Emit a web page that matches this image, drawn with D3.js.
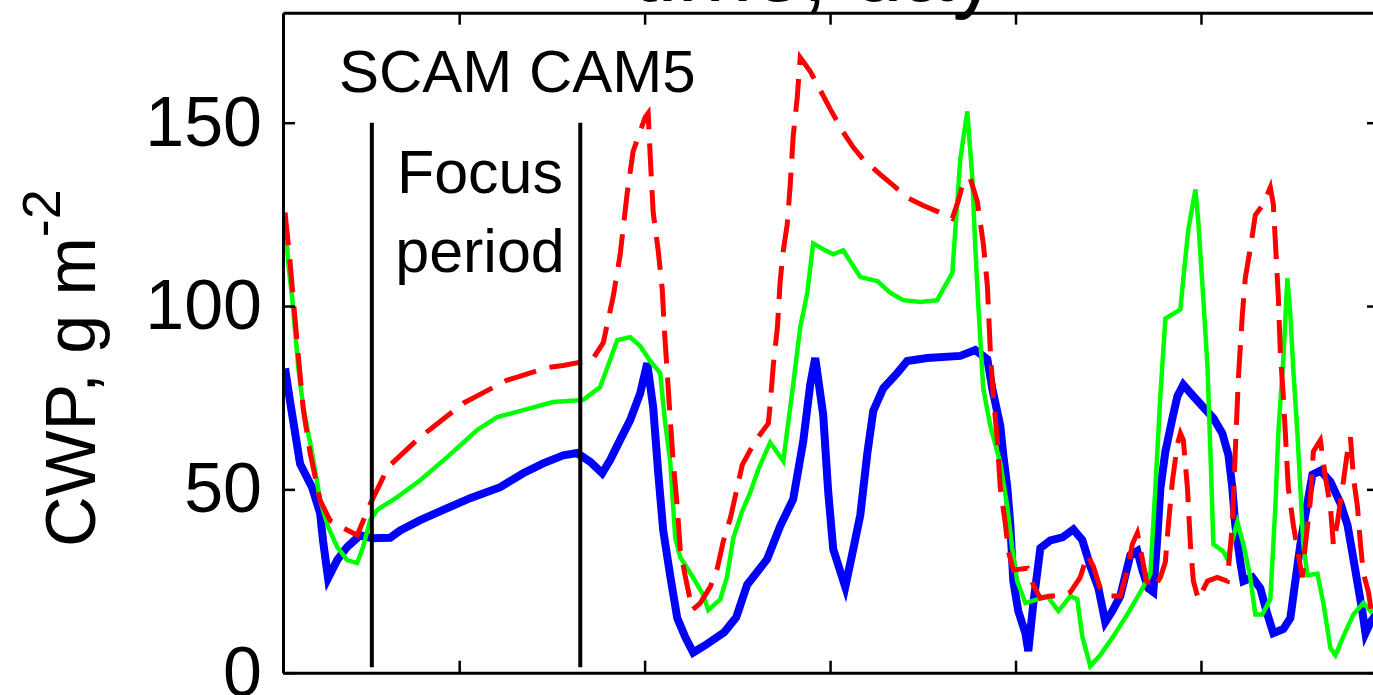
<!DOCTYPE html>
<html>
<head>
<meta charset="utf-8">
<script src="https://cdn.jsdelivr.net/npm/d3@7"></script>
<style>
  html, body { margin: 0; padding: 0; background: #fff; }
  svg { display: block; font-family: "Liberation Sans", Arial, Helvetica, sans-serif; }
</style>
</head>
<body>
<svg id="chart" width="1373" height="695"></svg>
<script>
// time in days, CWP in g m^-2
var xTicks = [1, 2, 3, 4, 5];
var yTicks = [0, 50, 100, 150];
var focusPeriod = [0.529, 1.653];

var cwpBlue = [
  [0.061,83],[0.088,74],[0.142,57],[0.207,50.5],[0.250,43.5],[0.266,36],[0.293,25.8],[0.342,30.7],
  [0.396,34.3],[0.466,37.5],[0.531,36.7],[0.628,36.8],[0.682,38.8],[0.790,41.6],[0.914,44.4],[1.059,47.6],
  [1.221,50.6],[1.345,54.4],[1.453,57.1],[1.561,59.3],[1.636,59.9],[1.707,57.5],[1.771,54.4],[1.814,58],
  [1.868,63.5],[1.922,68.9],[1.976,76.2],[2.014,84.4],[2.046,72.4],[2.073,54.7],[2.100,38.9],[2.138,26.4],
  [2.176,14.9],[2.219,9.7],[2.262,5.5],[2.327,7.5],[2.429,11],[2.494,15.1],[2.553,24],[2.661,31],
  [2.731,40],[2.801,47.3],[2.855,63],[2.893,78.6],[2.920,85.8],[2.963,70.3],[2.990,49.3],[3.017,33.7],
  [3.082,23.4],[3.125,33.7],[3.163,43],[3.201,59.9],[3.233,71.4],[3.287,77.6],[3.362,81.7],[3.416,85],
  [3.524,85.8],[3.702,86.4],[3.783,88],[3.848,85.5],[3.875,77.4],[3.918,67.3],[3.934,59.4],[3.956,50.4],
  [3.972,40.3],[3.988,25],[4.015,16.8],[4.053,10.8],[4.069,5.9],[4.096,18.9],[4.134,34],[4.188,36.1],
  [4.253,36.9],[4.312,39.1],[4.360,36.2],[4.403,29.1],[4.447,23.1],[4.484,13.8],[4.522,16.8],[4.565,20.9],
  [4.619,32],[4.657,33.2],[4.684,28],[4.716,23],[4.743,22],[4.765,37],[4.781,50.2],[4.808,60.3],
  [4.846,69.4],[4.873,75.4],[4.905,78.5],[4.959,75.4],[5.013,72.4],[5.067,69.4],[5.115,65.3],[5.148,59.4],
  [5.169,50.4],[5.185,40.3],[5.212,30.2],[5.229,25],[5.277,26],[5.320,23],[5.358,16],[5.390,10.8],
  [5.444,11.9],[5.482,14.9],[5.509,25],[5.536,35],[5.563,43.1],[5.601,54],[5.644,55.1],[5.698,52.1],
  [5.752,46.2],[5.790,40.3],[5.822,31],[5.849,23],[5.870,16.8],[5.887,10.8],[5.914,13.8],[5.946,16]
];

var cwpGreen = [
  [0.061,125.3],[0.078,111.7],[0.099,102.4],[0.115,93.4],[0.132,83.4],[0.159,72.5],[0.207,59.9],[0.250,47.1],
  [0.293,39.8],[0.342,34.3],[0.396,30.7],[0.450,29.9],[0.482,34.3],[0.520,41.6],[0.558,44.4],[0.666,47.9],
  [0.790,52.5],[0.935,58.8],[1.097,66.2],[1.205,69.7],[1.345,71.6],[1.507,73.8],[1.669,74.4],[1.760,77.9],
  [1.814,85.3],[1.852,90.7],[1.922,91.5],[1.976,89.1],[2.030,85],[2.084,81.7],[2.111,68.1],[2.138,57.7],
  [2.165,36.7],[2.192,31.5],[2.257,26.3],[2.316,21.2],[2.343,17.1],[2.408,20],[2.445,26.3],[2.478,36.7],
  [2.526,44],[2.570,49.2],[2.613,55.5],[2.677,62.8],[2.748,57.7],[2.769,66.1],[2.801,78.6],[2.839,94.2],
  [2.877,103.5],[2.909,117.1],[2.963,115.5],[3.017,114.1],[3.071,115.2],[3.125,110.9],[3.163,107.9],[3.255,106.8],
  [3.325,103.6],[3.395,101.6],[3.487,101.1],[3.578,101.6],[3.610,104.6],[3.659,109],[3.675,120.4],[3.702,140],
  [3.740,153.1],[3.767,135],[3.783,116],[3.799,100.5],[3.826,77.5],[3.864,67.3],[3.918,57.2],[3.956,45.2],
  [3.982,34],[4.009,25],[4.053,19],[4.118,20],[4.172,20.9],[4.231,16.8],[4.296,20.9],[4.333,20],
  [4.360,9.9],[4.403,1.8],[4.457,4.8],[4.527,9.9],[4.603,15.9],[4.673,22],[4.727,26.9],[4.754,50.2],
  [4.781,75.4],[4.808,96.6],[4.889,99.1],[4.905,107.6],[4.932,120.9],[4.970,131.8],[4.986,122.8],[5.013,101.6],
  [5.035,83.6],[5.051,60],[5.067,35],[5.120,33.1],[5.142,31],[5.196,41.1],[5.229,35],[5.266,26],
  [5.293,15.9],[5.331,15.9],[5.374,20],[5.401,45.2],[5.417,65.3],[5.444,85.5],[5.466,107.6],[5.482,97.6],
  [5.498,82.6],[5.520,65.3],[5.536,50.4],[5.552,35],[5.574,26.6],[5.628,27],[5.660,19],[5.698,6.7],
  [5.725,4.8],[5.768,9.9],[5.822,15.9],[5.876,19],[5.914,16.8],[5.946,19]
];

var cwpRed = [
  [0.061,125.5],[0.088,112],[0.126,90],[0.159,72],[0.196,60],[0.250,47],[0.304,41.5],[0.374,39.5],
  [0.450,37.5],[0.504,44],[0.520,46],[0.617,56.1],[0.790,64.3],[0.860,67],[1.022,73.5],[1.097,75.5],
  [1.259,79.8],[1.313,80.6],[1.475,83.2],[1.561,83.8],[1.717,85.3],[1.777,90],[1.831,102.7],[1.868,114],
  [1.906,130.8],[1.938,142.2],[2.003,151.5],[2.019,152.6],[2.030,141],[2.046,125.6],[2.073,115.2],[2.095,104.6],
  [2.106,94],[2.122,81.7],[2.138,69.2],[2.154,57.7],[2.176,45.2],[2.192,33.7],[2.219,26.3],[2.257,17.1],
  [2.300,19],[2.354,23.4],[2.392,28.5],[2.424,35.8],[2.462,42.1],[2.499,50.4],[2.526,56.6],[2.570,60.7],
  [2.623,65],[2.667,68],[2.677,73.2],[2.694,83.9],[2.716,94.2],[2.731,106.8],[2.748,115.2],[2.769,122.3],
  [2.785,132.9],[2.801,146.3],[2.823,156.9],[2.839,167.8],[2.893,164],[2.947,158.9],[3.001,153.7],[3.071,147.4],
  [3.125,143.3],[3.179,140],[3.270,135.9],[3.341,132.9],[3.416,129.6],[3.502,127.4],[3.593,125.5],[3.659,123.9],
  [3.690,128.5],[3.718,133.7],[3.756,134.8],[3.794,128.5],[3.826,117.1],[3.848,105.7],[3.864,88],[3.880,75.4],
  [3.902,63.4],[3.918,50.4],[3.946,40.3],[3.962,33],[3.988,28],[4.064,28.5],[4.096,23.9],[4.134,20.3],
  [4.188,20.9],[4.242,20.9],[4.296,22],[4.349,26],[4.387,32.1],[4.419,29.1],[4.457,23],[4.495,20.9],
  [4.565,20.9],[4.603,28],[4.630,35],[4.657,38.1],[4.684,31],[4.706,25],[4.743,23],[4.781,26],
  [4.808,30.2],[4.824,40.3],[4.846,52.3],[4.873,62.3],[4.889,65.3],[4.905,63.4],[4.927,50.4],[4.943,35],
  [4.959,25],[4.986,20],[5.035,25],[5.088,26],[5.142,25],[5.169,40.3],[5.185,60.3],[5.202,80.6],
  [5.223,97.5],[5.239,107.6],[5.266,115.7],[5.293,124.8],[5.336,127.8],[5.374,132.4],[5.390,127.8],[5.401,117.7],
  [5.417,102.7],[5.428,87.4],[5.444,75.4],[5.455,65.3],[5.471,50.4],[5.498,40.3],[5.525,32.1],[5.547,26],
  [5.563,35],[5.590,47],[5.606,60.3],[5.644,63.4],[5.671,53.3],[5.698,45.2],[5.714,35],[5.736,41.1],
  [5.763,50.4],[5.790,60.3],[5.806,64.2],[5.822,53.3],[5.844,45.2],[5.860,35],[5.876,27],[5.903,22],
  [5.919,16.8],[5.951,14]
];

var svg = d3.select('#chart');
var margins = {left: 283, top: 12.7, right: 1379, bottom: 672.7};

var x = d3.scaleLinear().domain([0.05, 5.96]).range([margins.left, margins.right]);
var y = d3.scaleLinear().domain([0, 180]).range([margins.bottom, margins.top]);

svg.append('rect').attr('width', 1373).attr('height', 695).attr('fill', '#fff');

svg.append('defs').append('clipPath').attr('id', 'plotclip')
  .append('rect')
  .attr('x', margins.left).attr('y', margins.top)
  .attr('width', margins.right - margins.left)
  .attr('height', margins.bottom - margins.top);

var line = d3.line()
  .x(function(d) { return x(d[0]); })
  .y(function(d) { return y(d[1]); });

var plot = svg.append('g').attr('clip-path', 'url(#plotclip)');

plot.append('path').datum(cwpBlue)
  .attr('d', line).attr('fill', 'none')
  .attr('stroke', '#0000ff').attr('stroke-width', 8);

plot.append('path').datum(cwpGreen)
  .attr('d', line).attr('fill', 'none')
  .attr('stroke', '#00ff00').attr('stroke-width', 4.5);

plot.append('path').datum(cwpRed)
  .attr('d', line).attr('fill', 'none')
  .attr('stroke', '#ff0000').attr('stroke-width', 5)
  .attr('stroke-dasharray', '33,14');

// focus period markers
plot.selectAll('line.focus').data(focusPeriod)
  .enter().append('line')
  .attr('class', 'focus')
  .attr('x1', function(d) { return x(d); })
  .attr('x2', function(d) { return x(d); })
  .attr('y1', y(1.5))
  .attr('y2', y(150))
  .attr('stroke', '#000').attr('stroke-width', 4);

// axes box with inward ticks
function styleAxis(g) {
  g.select('.domain').attr('stroke', '#000').attr('stroke-width', 3);
  g.selectAll('.tick line').attr('stroke', '#000').attr('stroke-width', 2.5);
  g.selectAll('.tick text').attr('fill', '#000').attr('font-size', 70)
    .attr('font-family', '"Liberation Sans", Arial, sans-serif');
}

svg.append('g').attr('transform', 'translate(0,' + margins.bottom + ')')
  .call(d3.axisBottom(x).tickValues(xTicks).tickSize(-12).tickSizeOuter(0).tickFormat(''))
  .call(styleAxis);
svg.append('g').attr('transform', 'translate(0,' + margins.top + ')')
  .call(d3.axisTop(x).tickValues(xTicks).tickSize(-12).tickSizeOuter(0).tickFormat(''))
  .call(styleAxis);
svg.append('g').attr('transform', 'translate(' + margins.left + ',0)')
  .call(d3.axisLeft(y).tickValues(yTicks).tickSize(-12).tickSizeOuter(0).tickPadding(21))
  .call(styleAxis);
svg.append('g').attr('transform', 'translate(' + margins.right + ',0)')
  .call(d3.axisRight(y).tickValues(yTicks).tickSize(-12).tickSizeOuter(0).tickFormat(''))
  .call(styleAxis);

// labels
svg.append('text')
  .attr('x', 815).attr('y', 1)
  .attr('text-anchor', 'middle').attr('font-size', 90)
  .text('time, day');

var ylab = svg.append('text')
  .attr('transform', 'translate(95,547) rotate(-90)')
  .attr('font-size', 70);
ylab.append('tspan').text('CWP, g m');
ylab.append('tspan').attr('dy', -35).attr('font-size', 54).text('-2');

svg.append('text')
  .attr('x', 339).attr('y', 92)
  .attr('font-size', 60)
  .text('SCAM CAM5');

svg.append('text')
  .attr('x', 480).attr('y', 193)
  .attr('text-anchor', 'middle').attr('font-size', 61)
  .text('Focus');
svg.append('text')
  .attr('x', 480).attr('y', 272)
  .attr('text-anchor', 'middle').attr('font-size', 61)
  .text('period');
</script>
</body>
</html>
